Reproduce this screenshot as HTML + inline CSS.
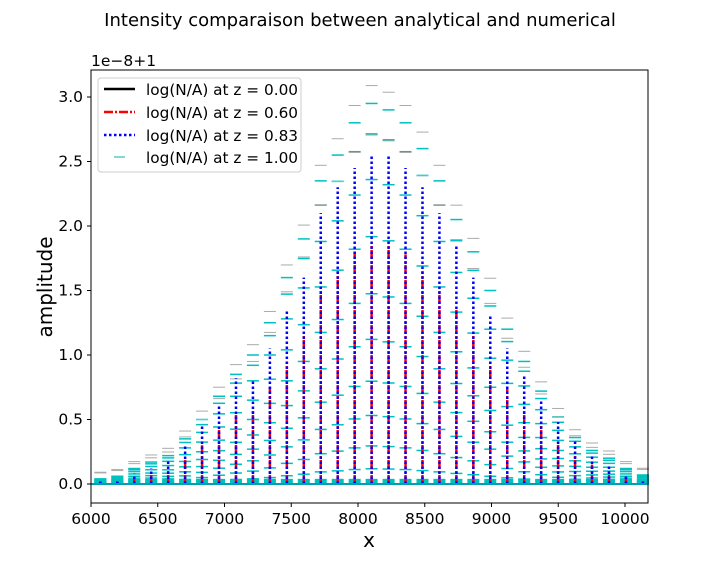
<!DOCTYPE html>
<html><head><meta charset="utf-8"><style>
body{margin:0;background:#fff;font-family:"Liberation Sans","DejaVu Sans",sans-serif}
svg text{font-family:"DejaVu Sans","Liberation Sans",sans-serif}
</style></head><body>
<svg id="chart" width="720" height="576" xmlns="http://www.w3.org/2000/svg">
<text x="360" y="26" font-size="18" text-anchor="middle">Intensity comparaison between analytical and numerical</text>
<text x="91" y="66" font-size="15.5">1e−8+1</text>
<g id="marks"></g>
<rect x="91" y="70" width="557" height="433" fill="none" stroke="#000" stroke-width="1"/>
<g id="axes"></g>
<text x="369" y="547" font-size="20" text-anchor="middle">x</text>
<text transform="translate(52,287) rotate(-90)" font-size="20" text-anchor="middle">amplitude</text>
<g>
<rect x="98" y="78" width="203" height="94" rx="3" fill="#fff" fill-opacity="0.85" stroke="#ccc"/>
<g><line x1="104" y1="89" x2="135" y2="89" stroke="#000" stroke-width="2.5"/><text x="146" y="95" font-size="15.3">log(N/A) at z = 0.00</text></g>
<g><line x1="104" y1="112" x2="135" y2="112" stroke="red" stroke-width="2.5" stroke-dasharray="9,2,2,2"/><text x="146" y="118" font-size="15.3">log(N/A) at z = 0.60</text></g>
<g><line x1="104" y1="135" x2="135" y2="135" stroke="blue" stroke-width="2.5" stroke-dasharray="2.5,2.5"/><text x="146" y="141" font-size="15.3">log(N/A) at z = 0.83</text></g>
<g><line x1="114" y1="157" x2="125" y2="157" stroke="#00b0b0" stroke-width="1"/><text x="146" y="163" font-size="15.3">log(N/A) at z = 1.00</text></g>
</g>
</svg>
<script>
const xs=[6070,6197,6324,6451,6578,6705,6832,6959,7086,7213,7340,7467,7594,7721,7848,7975,8102,8229,8356,8483,8610,8737,8864,8991,9118,9245,9372,9499,9626,9753,9880,10007,10134];
const blueTop=[0.02,0.03,0.08,0.12,0.18,0.3,0.45,0.62,0.82,0.8,1.05,1.35,1.6,2.1,2.3,2.45,2.55,2.55,2.45,2.3,2.1,1.85,1.6,1.3,1.05,0.85,0.65,0.48,0.33,0.22,0.14,0.07,0.03];
const redTop=[0.01,0.02,0.05,0.08,0.13,0.2,0.3,0.42,0.55,0.58,0.75,0.95,1.15,1.5,1.65,1.8,1.85,1.85,1.78,1.65,1.5,1.35,1.15,0.95,0.75,0.6,0.45,0.33,0.23,0.15,0.1,0.05,0.02];
const cyanTop=[0.04,0.06,0.12,0.17,0.22,0.35,0.5,0.68,0.85,1.0,1.25,1.6,1.9,2.35,2.55,2.8,2.95,2.9,2.8,2.6,2.35,2.05,1.8,1.5,1.2,0.95,0.72,0.52,0.36,0.26,0.2,0.12,0.07];
const xTicks=[6000,6500,7000,7500,8000,8500,9000,9500,10000];
const yTicks=[0,0.5,1.0,1.5,2.0,2.5,3.0];
const cyanLevels=[1,0.92,0.8,0.65,0.5,0.38,0.27,0.18,0.1,0.04];
const NS="http://www.w3.org/2000/svg";
const px=x=>91+(x-6000)*0.1335;
const py=y=>484-y*129;
const marks=document.getElementById('marks'),axes=document.getElementById('axes');
function mk(tag,attrs,parent){const e=document.createElementNS(NS,tag);for(const k in attrs)e.setAttribute(k,attrs[k]);parent.appendChild(e);return e;}
xs.forEach((x,i)=>{
  const cx=px(x);
  const g=mk('g',{},marks);
  
  
  const base=mk('rect',{x:cx-6,y:py(0.04),width:12,height:py(0)-py(0.04)+1,fill:'#00c0c0'},g);
  
  
  cyanLevels.forEach(f=>{
    const y=py(cyanTop[i]*f);
    const l=mk('line',{x1:cx-6,x2:cx+6,y1:y,y2:y,stroke:'#00c0c0','stroke-width':1.5},g);
    
    
  });
  [1.03,0.9].forEach(f=>{
    const y=py(cyanTop[i]*f+0.05);
    const l=mk('line',{x1:cx-6,x2:cx+6,y1:y,y2:y,stroke:'#aaa','stroke-width':1},g);
    
    
  });
  const r=mk('line',{x1:cx,x2:cx,y1:py(0),y2:py(redTop[i]),stroke:'red','stroke-width':2.5,'stroke-dasharray':'9,2,2,2'},g);
  
  
  const b=mk('line',{x1:cx,x2:cx,y1:py(0),y2:py(blueTop[i]),stroke:'blue','stroke-width':2.5,'stroke-dasharray':'2.5,2.5'},g);
  
  
});
const bl=mk('line',{x1:91,x2:648,y1:py(0),y2:py(0),stroke:'#00a0b0','stroke-width':2},marks);


xTicks.forEach(t=>{
  const x=px(t);
  mk('line',{x1:x,x2:x,y1:503,y2:507,stroke:'#000'},axes);
  const tx=mk('text',{x:x,y:524,'font-size':15.5,'text-anchor':'middle'},axes);
  tx.textContent=t;
  
  
});
yTicks.forEach(t=>{
  const y=py(t);
  mk('line',{x1:87,x2:91,y1:y,y2:y,stroke:'#000'},axes);
  const tx=mk('text',{x:83,y:y+5,'font-size':15.5,'text-anchor':'end'},axes);
  tx.textContent=t.toFixed(1);
  
  
});
</script>
</body></html>
